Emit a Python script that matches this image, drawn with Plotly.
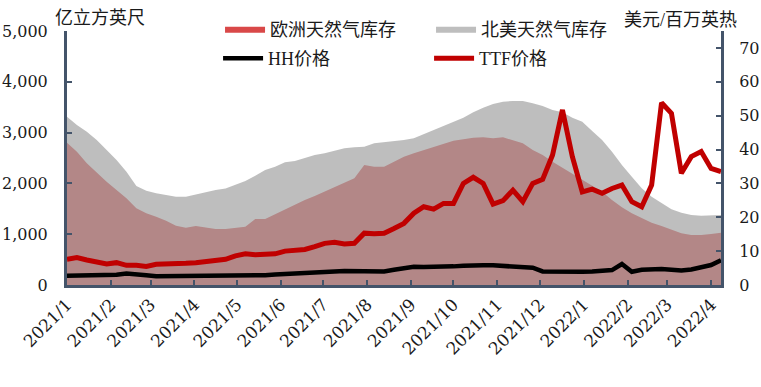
import pandas as pd
import plotly.graph_objects as go

# weekly observations starting 2021-01-01
n_weeks = 67
dates = pd.date_range("2021-01-01", periods=n_weeks, freq="7D")

# 欧洲天然气库存 (亿立方英尺)
europe_storage = [2801, 2624, 2395, 2211, 2034, 1870, 1706, 1509, 1411, 1345, 1266, 1168,
                  1129, 1161, 1135, 1102, 1102, 1129, 1148, 1299, 1299, 1391, 1490, 1575,
                  1673, 1752, 1837, 1935, 2014, 2100, 2362, 2329,
                  2329, 2427, 2526, 2592, 2657, 2710, 2776, 2841, 2868, 2900, 2907, 2887,
                  2907, 2854, 2789, 2657, 2559, 2427, 2309, 2198, 2081, 1969, 1837, 1673,
                  1529, 1411, 1312, 1227, 1161, 1083, 1017, 984, 984, 1004, 1030]

# 北美天然气库存 (亿立方英尺)
na_storage = [3313, 3150, 3018, 2854, 2657, 2461, 2230, 1949, 1856, 1805, 1772, 1738,
              1738, 1785, 1837, 1870, 1900,
              1969, 2047, 2152, 2264, 2329, 2415, 2441, 2493, 2559, 2592, 2638, 2690,
              2710, 2723, 2789,
              2808, 2835, 2854, 2887, 2966, 3051, 3130, 3202, 3294, 3399, 3490, 3563,
              3609, 3622, 3622, 3576, 3524, 3445,
              3399, 3294, 3215, 3031, 2854, 2624, 2362, 2132, 1903, 1738, 1608, 1490,
              1423, 1378, 1364, 1364, 1378]

# HH价格 (美元/百万英热)
hh_price = [2.7, 2.7, 2.7, 2.7, 2.9, 3.0, 3.4, 3.0, 2.9, 2.6, 2.6, 2.6, 2.6, 2.6, 2.6, 2.7,
            2.8, 2.9, 2.9, 2.9, 2.9, 3.1, 3.3, 3.5, 3.7, 3.9, 3.9, 4.0, 4.1, 4.1, 3.9, 4.0,
            4.0, 4.5, 5.0, 5.4, 5.3, 5.3, 5.4, 5.5, 5.7, 5.6, 5.8, 5.8, 5.6, 5.2, 5.1, 5.1,
            4.0, 3.9, 3.9, 3.9, 3.9, 4.0, 4.2,
            4.4, 6.2, 3.9, 4.5, 4.7, 4.7, 4.5, 4.3, 4.6, 5.3, 5.9, 7.3]

# TTF价格 (美元/百万英热)
ttf_price = [7.6, 8.1, 7.4, 6.9, 6.2, 6.6, 5.8, 5.8, 5.5, 6.1, 6.1, 6.4, 6.4, 6.6, 6.9, 7.2,
             7.6, 8.6, 9.2, 8.9, 9.2, 9.2, 10.0, 10.1, 10.5, 11.3, 12.3, 12.6, 12.1, 12.3,
             15.3, 15.1,
             15.3, 16.7, 18.2, 21.2, 23.1, 22.4, 24.1, 24.1, 30.0, 31.8, 30.0, 23.9, 24.9,
             28.0, 24.6, 30.0, 31.2, 38.4, 51.7, 37.9, 27.5, 28.3, 27.1, 28.5, 29.5, 24.6,
             23.1, 29.5, 53.8, 50.7, 33.0, 37.9, 39.4, 34.4, 33.5]

left_ticks = [0, 1000, 2000, 3000, 4000, 5000]
right_ticks = [0, 10, 20, 30, 40, 50, 60, 70]

AXIS_COL = "#44546A"
TICK_FONT = dict(family="DejaVu Serif", size=16, color="#1a1a1a")
CJK = "Liberation Serif, Noto Sans CJK SC"

fig = go.Figure()
fig.add_trace(go.Scatter(x=dates, y=europe_storage, name="欧洲天然气库存", mode="lines",
                         fill="tozeroy", fillcolor="rgb(217,72,72)", line=dict(width=0),
                         legend="legend"))
fig.add_trace(go.Scatter(x=dates, y=na_storage, name="北美天然气库存", mode="lines",
                         fill="tozeroy", fillcolor="rgba(162,162,162,0.70)", line=dict(width=0),
                         legend="legend"))
fig.add_trace(go.Scatter(x=dates, y=hh_price, name="HH价格", mode="lines", yaxis="y2",
                         line=dict(color="#000000", width=4.5), legend="legend2"))
fig.add_trace(go.Scatter(x=dates, y=ttf_price, name="TTF价格", mode="lines", yaxis="y2",
                         line=dict(color="#C00000", width=5), legend="legend2"))

fig.update_layout(
    width=761, height=387,
    margin=dict(l=67, r=40, t=31, b=102, autoexpand=False),
    paper_bgcolor="white", plot_bgcolor="white",
    font=dict(family=CJK, size=16, color="#1a1a1a"),
    showlegend=True,
    legend=dict(orientation="h", x=0.234, y=1.008, xanchor="left", yanchor="middle",
                entrywidth=156, entrywidthmode="pixels", itemwidth=40,
                bgcolor="rgba(0,0,0,0)", font=dict(family=CJK, size=18, color="#1a1a1a")),
    legend2=dict(orientation="h", x=0.231, y=0.892, xanchor="left", yanchor="middle",
                 entrywidth=156, entrywidthmode="pixels", itemwidth=40,
                 bgcolor="rgba(0,0,0,0)", font=dict(family=CJK, size=18, color="#1a1a1a")),
    xaxis=dict(type="date", range=["2021-01-01", "2022-04-08"], automargin=False,
               tick0="2021-01-01", dtick="M1", tickformat="%Y/%-m", tickangle=-45,
               showline=True, linecolor=AXIS_COL, linewidth=3,
               ticks="inside", ticklen=5, tickwidth=2, tickcolor=AXIS_COL,
               showgrid=False, zeroline=False,
               tickfont=dict(family="DejaVu Serif", size=17, color="#1a1a1a")),
    yaxis=dict(range=[0, 5000], tickvals=left_ticks, tickformat=",", automargin=False,
               showline=True, linecolor=AXIS_COL, linewidth=3,
               ticks="inside", ticklen=5, tickwidth=2, tickcolor=AXIS_COL,
               showgrid=False, zeroline=False, tickfont=TICK_FONT, ticklabelstandoff=13),
    yaxis2=dict(range=[0, 75], tickvals=right_ticks, overlaying="y", side="right",
                automargin=False,
                showline=True, linecolor=AXIS_COL, linewidth=3,
                ticks="inside", ticklen=5, tickwidth=2, tickcolor=AXIS_COL,
                showgrid=False, zeroline=False, tickfont=TICK_FONT, ticklabelstandoff=12),
    annotations=[
        dict(text="亿立方英尺", xref="paper", yref="paper", x=-0.022, y=1.05,
             xanchor="left", yanchor="middle", showarrow=False,
             font=dict(family=CJK, size=18, color="#1a1a1a")),
        dict(text="美元/百万英热", xref="paper", yref="paper", x=0.849, y=1.043,
             xanchor="left", yanchor="middle", showarrow=False,
             font=dict(family=CJK, size=18, color="#1a1a1a")),
    ],
)

fig.write_html("out.html", config={"displayModeBar": False},
               post_script="document.body.style.margin='0';")
